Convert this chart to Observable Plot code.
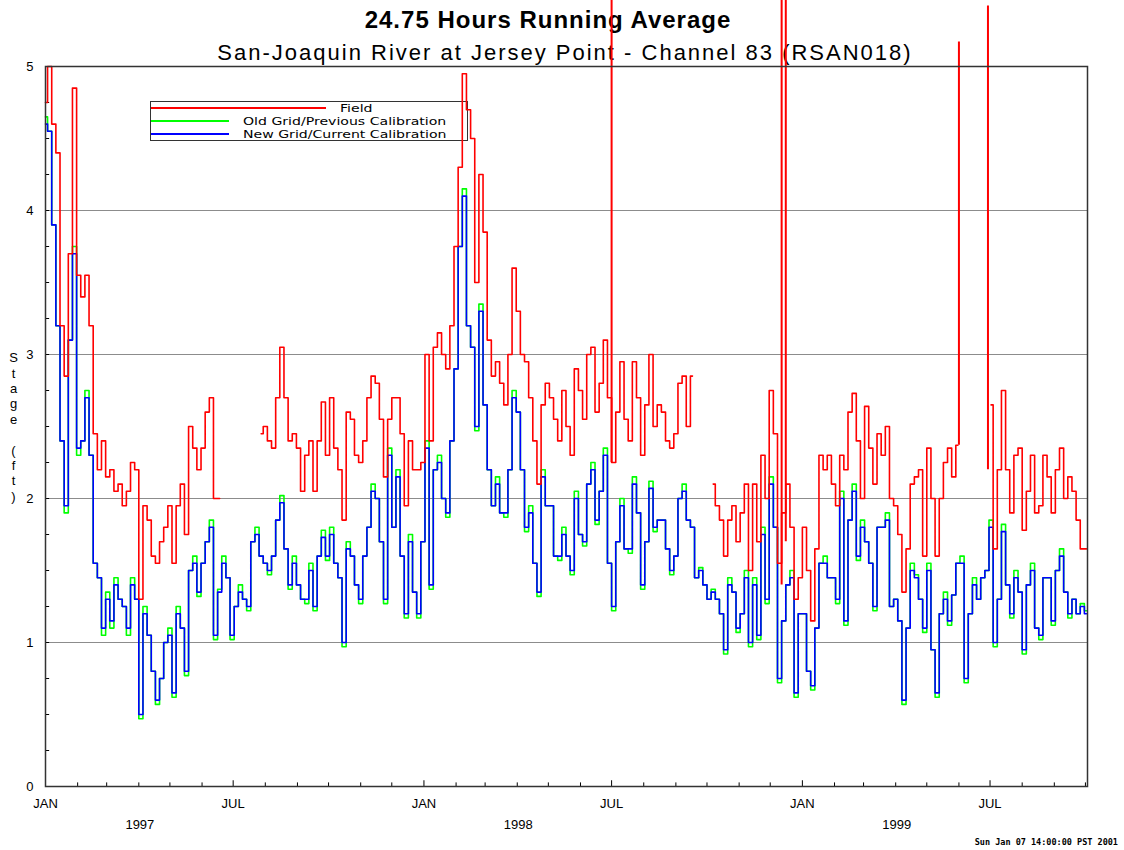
<!DOCTYPE html>
<html><head><meta charset="utf-8">
<script src="https://cdn.jsdelivr.net/npm/d3@7"></script>
<script src="https://cdn.jsdelivr.net/npm/@observablehq/plot@0.6"></script>
<style>
body{margin:0;background:#fff;font-family:"Liberation Sans",Arial,sans-serif;}
#wrap{position:relative;width:1124px;height:850px;overflow:hidden;background:#fff;}
#title{position:absolute;left:0;width:1096px;top:8px;text-align:center;font-weight:bold;font-size:24px;line-height:1;z-index:1;color:#000;letter-spacing:1px;}
#subtitle{position:absolute;left:0;width:1130px;top:42px;text-align:center;font-size:22px;line-height:1;z-index:1;color:#000;letter-spacing:2px;}
#legend{position:absolute;left:150px;top:101px;width:318px;height:40px;box-sizing:border-box;border:1.5px solid #333;z-index:1;font-family:"DejaVu Sans",sans-serif;font-size:11px;}
#legend .sw{position:absolute;height:1.5px;}
#legend span{position:absolute;line-height:12.5px;white-space:nowrap;color:#000;transform:scaleX(1.28);transform-origin:0 50%;}
#stamp{position:absolute;right:6px;top:838px;font-family:"DejaVu Sans Mono",monospace;font-weight:bold;font-size:8.5px;line-height:1;z-index:1;}
#chart{position:absolute;left:0;top:0;z-index:2;}
</style>
</head><body>
<div id="wrap">
  <div id="title">24.75 Hours Running Average</div>
  <div id="subtitle">San-Joaquin River at Jersey Point - Channel 83 (RSAN018)</div>
  <div id="legend">
    <div class="sw" style="left:0px;top:5px;width:175px;background:#ff0000"></div>
    <span style="left:189px;top:1px">Field</span>
    <div class="sw" style="left:0px;top:18px;width:78px;background:#00ff00"></div>
    <span style="left:92px;top:14px">Old Grid/Previous Calibration</span>
    <div class="sw" style="left:0px;top:31px;width:78px;background:#0000ff"></div>
    <span style="left:92px;top:27px">New Grid/Current Calibration</span>
  </div>
  <div id="stamp">Sun Jan 07 14:00:00 PST 2001</div>
  <div id="chart"></div>
</div>
<script>
// ---- data (one sample every 4 days from 1 Jan 1997) ----
const startDate = "1997-01-01";
const stepDays = 4;
const xDomain = ["1997-01-01", "1999-10-03"];

const field = [
4.75,5.0,4.6,4.4,3.2,2.85,3.7,4.85,3.55,3.4,
3.55,3.2,2.45,2.2,2.4,2.15,2.2,2.05,2.1,1.95,
2.05,2.25,2.2,1.3,1.95,1.85,1.6,1.55,1.7,1.8,
1.95,1.55,1.95,2.1,1.75,2.5,2.35,2.2,2.35,2.6,
2.7,2.0,
2.0,null,null,null,null,null,null,null,null,null,
2.45,2.5,2.4,2.35,2.7,3.05,2.7,2.4,2.45,2.35,
2.05,2.3,2.4,2.05,2.4,2.67,2.3,2.7,2.35,2.2,
1.85,2.6,2.55,2.3,2.25,2.4,2.7,2.85,2.8,2.55,
2.15,2.55,
2.7,2.7,2.45,1.95,2.4,2.2,2.2,2.25,3.0,2.4,
3.05,3.15,3.0,2.9,3.2,3.75,4.3,4.95,4.7,4.5,
3.5,4.25,3.85,3.1,2.85,2.95,2.8,2.65,3.0,3.6,
3.3,3.0,2.95,2.7,2.4,2.1,2.65,2.8,2.7,2.55,
2.4,2.75,
2.5,2.3,2.9,2.75,2.55,3.0,3.05,2.6,2.8,3.1,
2.7,2.25,2.6,2.95,2.55,2.4,2.95,2.7,2.3,2.65,
3.0,2.5,2.65,2.6,2.4,2.35,2.45,2.8,2.85,2.5,
2.85,null,null,null,null,2.1,1.95,1.85,1.6,1.85,
1.95,1.7,
1.9,2.1,1.5,2.1,1.7,2.3,2.0,2.75,2.45,1.55,
1.9,2.1,1.8,1.3,1.45,1.8,1.5,1.15,1.65,2.3,
2.2,2.3,2.1,1.95,2.3,2.2,2.6,2.73,2.4,2.0,
2.64,2.35,2.1,2.45,2.3,2.5,2.0,1.95,1.75,1.35,
1.65,2.1,
2.15,2.2,1.6,2.35,2.0,1.6,2.0,2.25,2.35,2.15,
2.37,null,null,null,null,null,null,null,2.65,1.65,
2.2,2.75,2.2,1.9,2.3,2.35,1.78,2.05,2.3,1.9,
1.95,2.3,2.15,1.9,2.2,2.35,2.0,2.15,2.05,1.85,
1.65,1.65
];

const newGrid = [
4.6,4.55,3.9,3.2,2.4,1.95,3.1,3.7,2.35,2.4,
2.7,2.3,1.55,1.45,1.1,1.3,1.15,1.4,1.3,1.25,
1.1,1.4,1.3,0.5,1.2,1.05,0.8,0.6,0.75,1.0,
1.05,0.65,1.2,1.1,0.8,1.5,1.55,1.35,1.55,1.7,
1.8,1.05,
1.35,1.55,1.45,1.05,1.25,1.35,1.3,1.25,1.7,1.75,
1.6,1.55,1.5,1.6,1.85,1.97,1.65,1.4,1.55,1.4,
1.3,1.3,1.5,1.25,1.6,1.73,1.6,1.75,1.55,1.45,
1.0,1.65,1.6,1.4,1.3,1.6,1.8,2.05,2.0,1.7,
1.3,2.3,
1.8,2.15,1.6,1.2,1.7,1.35,1.2,1.7,2.35,1.4,
2.2,2.25,2.0,1.9,2.4,2.9,3.75,4.1,3.2,3.05,
2.5,3.3,2.65,2.2,1.95,2.1,1.9,1.9,2.2,2.7,
2.6,2.2,1.8,1.9,1.55,1.35,2.15,1.95,1.95,1.6,
1.6,1.75,
1.6,1.5,2.0,1.75,1.7,2.1,2.2,1.85,2.05,2.3,
1.55,1.25,1.7,1.95,1.65,1.65,2.1,1.9,1.4,1.7,
2.07,1.8,1.85,1.85,1.65,1.5,1.6,2.0,2.05,1.85,
1.8,1.45,1.5,1.4,1.3,1.35,1.3,1.2,0.95,1.4,
1.35,1.1,
1.2,1.45,1.0,1.4,1.05,1.75,1.3,2.1,1.8,0.75,
1.15,1.4,1.45,0.65,1.2,1.2,0.8,0.7,1.1,1.55,
1.55,1.45,1.45,1.3,2.0,1.15,1.85,2.05,1.6,1.8,
1.7,1.55,1.25,1.8,1.8,1.85,1.25,1.3,1.15,0.6,
1.1,1.5,
1.45,1.3,1.1,1.5,0.95,0.65,1.2,1.3,1.15,1.33,
1.55,1.55,0.75,1.2,1.4,1.3,1.45,1.5,1.8,1.0,
1.3,1.77,1.4,1.2,1.45,1.35,0.95,1.4,1.5,1.1,
1.05,1.45,1.45,1.15,1.5,1.6,1.35,1.2,1.3,1.2,
1.25,1.2
];

const oldGrid = [
4.65,4.55,3.9,3.2,2.4,1.9,3.1,3.75,2.3,2.4,
2.75,2.3,1.55,1.45,1.05,1.35,1.1,1.45,1.3,1.25,
1.05,1.45,1.3,0.47,1.25,1.05,0.8,0.57,0.75,1.0,
1.1,0.62,1.25,1.1,0.77,1.5,1.6,1.32,1.55,1.7,
1.85,1.02,
1.37,1.6,1.45,1.02,1.25,1.4,1.3,1.22,1.7,1.8,
1.6,1.55,1.47,1.6,1.85,2.02,1.65,1.37,1.6,1.4,
1.3,1.27,1.55,1.22,1.6,1.78,1.57,1.8,1.55,1.45,
0.97,1.7,1.6,1.4,1.27,1.6,1.8,2.1,2.0,1.7,
1.27,2.35,
1.8,2.2,1.6,1.17,1.75,1.35,1.17,1.7,2.4,1.37,
2.2,2.3,2.0,1.87,2.4,2.9,3.75,4.15,3.2,3.05,
2.47,3.35,2.65,2.2,1.95,2.15,1.9,1.87,2.2,2.75,
2.6,2.2,1.77,1.95,1.55,1.32,2.2,1.95,1.95,1.6,
1.57,1.8,
1.6,1.47,2.05,1.75,1.67,2.1,2.25,1.82,2.05,2.35,
1.55,1.22,1.7,2.0,1.65,1.62,2.15,1.9,1.37,1.7,
2.12,1.77,1.85,1.85,1.65,1.47,1.6,2.0,2.1,1.85,
1.8,1.45,1.52,1.4,1.3,1.37,1.3,1.2,0.92,1.45,
1.35,1.07,
1.2,1.5,0.97,1.45,1.02,1.8,1.27,2.15,1.8,0.72,
1.15,1.4,1.5,0.62,1.2,1.2,0.8,0.67,1.1,1.55,
1.6,1.45,1.45,1.27,2.05,1.12,1.85,2.1,1.57,1.85,
1.7,1.55,1.22,1.8,1.8,1.9,1.25,1.3,1.15,0.57,
1.1,1.55,
1.47,1.3,1.07,1.55,0.95,0.62,1.2,1.35,1.12,1.33,
1.55,1.6,0.72,1.2,1.45,1.3,1.45,1.5,1.85,0.97,
1.3,1.82,1.4,1.17,1.5,1.35,0.92,1.4,1.55,1.1,
1.02,1.45,1.45,1.12,1.5,1.65,1.35,1.17,1.3,1.2,
1.27,1.22
];

// isolated spikes in the field record
const spikeDates = ["1998-07-01", "1998-12-12", "1998-12-16", "1999-06-01", "1999-06-29"];
const spikeBase  = [2.25, 1.4, 1.7, 2.37, 2.2];
const spikeTop   = [5.6, 5.6, 5.6, 5.17, 5.42];

const yTicks = [0, 1, 2, 3, 4, 5];
const gridValues = [1, 2, 3, 4];
const yearLabels = ["1997", "1998", "1999"];
const yearLabelDates = ["1997-04-02", "1998-04-02", "1999-04-02"];
const yAxisLabel = ["S","t","a","g","e","\u00a0","(","f","t",")"];

// ---- build tables ----
const t0 = new Date(startDate);
const rows = field.map((v, i) => ({
  date: d3.utcDay.offset(t0, stepDays * i),
  field: v, oldGrid: oldGrid[i], newGrid: newGrid[i]
}));
const spikes = spikeDates.map((d, i) => ({date: new Date(d), y1: spikeBase[i], y2: spikeTop[i]}));
const dStart = new Date(xDomain[0]), dEnd = new Date(xDomain[1]);
const months = d3.utcMonth.range(dStart, d3.utcDay.offset(dEnd, 1));
const majorTicks = months.filter(d => d.getUTCMonth() % 6 === 0);
const yMinor = d3.range(1, 20).map(k => k * 0.25);
const years = yearLabels.map((t, i) => ({date: new Date(yearLabelDates[i]), text: t}));

const chart = Plot.plot({
  width: 1124, height: 850,
  marginTop: 66, marginBottom: 64, marginLeft: 45, marginRight: 37,
  style: "background: transparent; font-family: 'Liberation Sans', Arial, sans-serif; font-size: 13px; color: #000;",
  x: {type: "utc", domain: [dStart, dEnd], axis: null},
  y: {domain: [0, 5], axis: null},
  marks: [
    Plot.ruleY(gridValues, {stroke: "#8c8c8c", strokeWidth: 1}),
    Plot.ruleY(yMinor, {y: d => d, x1: dStart, x2: d3.utcDay.offset(dStart, 4), stroke: "#000", strokeWidth: 1}),
    Plot.ruleX(months, {x: d => d, y1: 0, y2: d => d.getUTCMonth() % 6 === 0 ? 0.04 : 0.025, stroke: "#000", strokeWidth: 1}),
    Plot.line(rows, {x: "date", y: "oldGrid", curve: "step", stroke: "#00ff00", strokeWidth: 1.6}),
    Plot.line(rows, {x: "date", y: "newGrid", curve: "step", stroke: "#0000ff", strokeWidth: 1.6}),
    Plot.line(rows, {x: "date", y: "field", curve: "step", stroke: "#ff0000", strokeWidth: 1.6}),
    Plot.ruleX(spikes, {x: "date", y1: "y1", y2: "y2", stroke: "#ff0000", strokeWidth: 2}),
    Plot.frame({stroke: "#333", strokeWidth: 1.5}),
    Plot.axisY({ticks: yTicks, tickSize: 0, tickPadding: 12, fontSize: 13, tickFormat: d => String(d)}),
    Plot.axisX({ticks: majorTicks, tickSize: 0, tickPadding: 12, fontSize: 13,
      tickFormat: d => d.getUTCMonth() === 0 ? "JAN" : "JUL"}),
    Plot.text(years, {x: "date", text: "text", frameAnchor: "bottom", dy: 42, fontSize: 13}),
    Plot.text([yAxisLabel.join("\n")], {text: d => d, frameAnchor: "left", dx: -32, fontSize: 13, lineHeight: 1.185, textAnchor: "middle"})
  ]
});
document.getElementById("chart").appendChild(chart);
</script>
</body></html>
